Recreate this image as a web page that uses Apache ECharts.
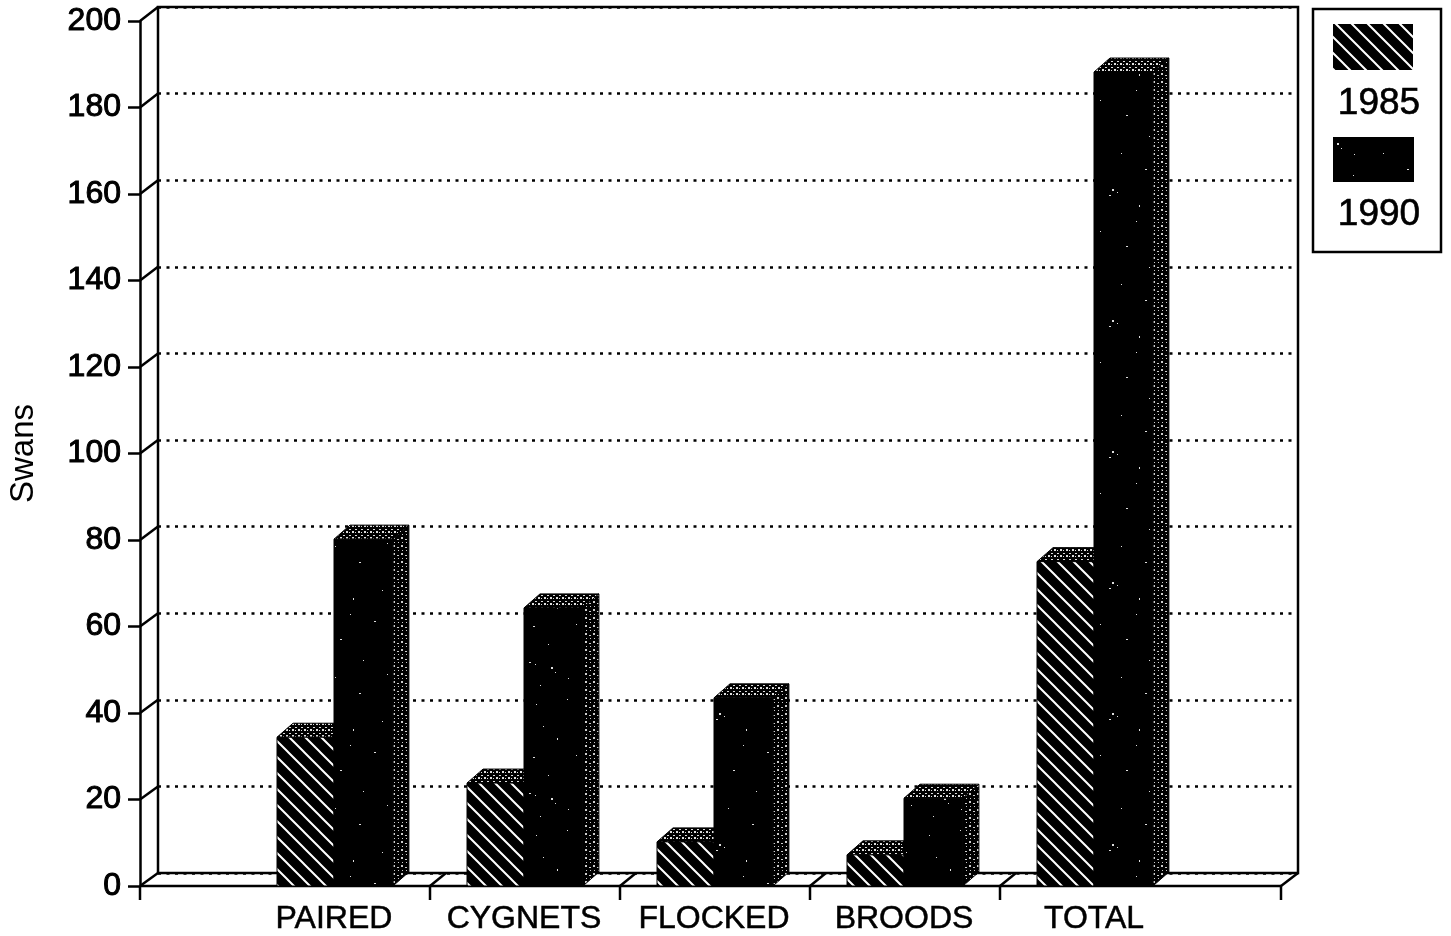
<!DOCTYPE html>
<html>
<head>
<meta charset="utf-8">
<title>Swans</title>
<style>
    html, body { margin: 0; padding: 0; background: #fff; }
    #chart { width: 1451px; height: 936px; }
</style>
<script src="https://cdn.jsdelivr.net/npm/echarts@6/dist/echarts.min.js"></script>
</head>
<body>
<div id="chart"></div>
<script>
    var categories = ['PAIRED', 'CYGNETS', 'FLOCKED', 'BROODS', 'TOTAL'];
    var values1985 = [34.4, 23.8, 10.2, 7.2, 75];
    var values1990 = [80.2, 64.3, 43.5, 20.3, 188.2];
    var yTicks = [0, 20, 40, 60, 80, 100, 120, 140, 160, 180, 200];

    var FONT = '"Liberation Sans", Arial, sans-serif';
    var DEPTH_X = 16;
    var DEPTH_Y = 14;
    var AXIS_X = 140;     // front y axis
    var AXIS_END = 1281;  // front edge of the floor
    var WALL_X = 158;
    var WALL_END = 1298;

    function makeTile(size, draw) {
        var c = document.createElement('canvas');
        c.width = size;
        c.height = size;
        var ctx = c.getContext('2d');
        ctx.fillStyle = '#000';
        ctx.fillRect(0, 0, size, size);
        draw(ctx);
        return { image: c, repeat: 'repeat' };
    }

    function dots(ctx, list, color) {
        ctx.fillStyle = color;
        list.forEach(function (d) {
            ctx.fillRect(d[0], d[1], d[2] || 1, d[3] || 1);
        });
    }

    var hatch = makeTile(16, function (ctx) {
        ctx.strokeStyle = '#fff';
        ctx.lineWidth = 2;
        ctx.beginPath();
        ctx.moveTo(-4, -4); ctx.lineTo(20, 20);
        ctx.moveTo(12, -4); ctx.lineTo(20, 4);
        ctx.moveTo(-4, 12); ctx.lineTo(4, 20);
        ctx.stroke();
    });

    // uneven specks on the black front of the 1990 bars
    var speckle = makeTile(131, function (ctx) {
        dots(ctx, [[5, 7, 2, 1], [11, 9], [19, 71], [27, 12, 2, 2], [31, 17], [78, 115, 2, 1], [44, 23], [97, 38, 2, 1],
            [12, 49], [33, 83, 1, 2], [101, 5], [9, 102, 2, 1], [24, 120], [120, 66], [64, 58, 2, 2], [69, 61], [61, 64, 2, 1],
            [88, 90], [112, 97, 2, 1], [52, 100], [73, 22], [125, 19], [16, 30], [91, 74, 1, 2], [43, 44]], '#ddd');
    });

    var stipple = makeTile(8, function (ctx) {
        dots(ctx, [[1, 1, 2, 2], [5, 3, 2, 1], [2, 6, 1, 1], [6, 6, 1, 1]], '#ccc');
    });

    var stippleTop = makeTile(6, function (ctx) {
        dots(ctx, [[1, 1, 2, 1], [4, 3, 2, 2], [1, 4, 1, 1]], '#ddd');
    });

    // one 3D bar: front, top and side faces, front face from the axis scales
    function renderBar(side, front, showSide, share) {
        return function (params, api) {
            var base = api.coord([api.value(0), 0]);
            var top = api.coord([api.value(0), api.value(1)]);
            var w = api.size([1, 0])[0] * share;
            var x0 = side < 0 ? base[0] - w : base[0];
            var x1 = x0 + w;
            var y0 = base[1];
            var y1 = top[1];
            var edge = { stroke: '#000', lineWidth: 1 };
            var children = [{
                type: 'polygon',
                shape: { points: [[x0, y1], [x0 + DEPTH_X, y1 - DEPTH_Y], [x1 + DEPTH_X, y1 - DEPTH_Y], [x1, y1]] },
                style: Object.assign({ fill: stippleTop }, edge)
            }];
            if (showSide) {
                children.push({
                    type: 'polygon',
                    shape: { points: [[x1, y0], [x1 + DEPTH_X, y0 - DEPTH_Y], [x1 + DEPTH_X, y1 - DEPTH_Y], [x1, y1]] },
                    style: Object.assign({ fill: stipple }, edge)
                });
            }
            children.push({
                type: 'rect',
                shape: { x: x0, y: y1, width: w, height: y0 - y1 },
                style: Object.assign({ fill: front }, edge)
            });
            return { type: 'group', children: children };
        };
    }

    var chart = echarts.init(document.getElementById('chart'));

    chart.setOption({
        animation: false,
        backgroundColor: '#fff',
        textStyle: { fontFamily: FONT, color: '#000' },
        grid: [
            // front plane, carries the bars and both visible axes
            { left: 239, width: 950, top: 21, height: 865, outerBoundsMode: 'none' },
            // back wall with the dotted lines
            { left: WALL_X, width: WALL_END - WALL_X, top: 7, height: 866, outerBoundsMode: 'none', show: true, borderColor: '#000', borderWidth: 2.5, backgroundColor: 'transparent' }
        ],
        xAxis: [
            {
                type: 'category',
                gridIndex: 0,
                data: categories,
                axisLine: { show: false },
                axisTick: { show: false },
                axisLabel: { color: '#000', fontFamily: FONT, fontSize: 32, margin: 17, interval: 0, textBorderColor: '#000', textBorderWidth: 0.5 }
            },
            { type: 'value', gridIndex: 1, min: 0, max: 1, show: false }
        ],
        yAxis: [
            {
                type: 'value',
                gridIndex: 0,
                min: 0,
                max: 200,
                interval: 20,
                offset: 99,
                name: 'Swans',
                nameLocation: 'middle',
                nameRotate: 90,
                nameGap: 100,
                nameTextStyle: { color: '#000', fontFamily: FONT, fontSize: 33 },
                axisLine: { show: true, lineStyle: { color: '#000', width: 2.5 } },
                axisTick: { show: true, length: 12, lineStyle: { color: '#000', width: 2.5 } },
                axisLabel: { color: '#000', fontFamily: FONT, fontSize: 32, margin: 19, padding: [6, 0, 0, 0], textBorderColor: '#000', textBorderWidth: 1, formatter: function (v) { return yTicks.indexOf(v) >= 0 ? String(v) : ''; } },
                splitLine: { show: false }
            },
            {
                type: 'value',
                gridIndex: 1,
                min: 0,
                max: 200,
                interval: 20,
                axisLine: { show: false },
                axisTick: { show: false },
                axisLabel: { show: false },
                splitLine: { show: true, lineStyle: { color: '#000', width: 2.5, type: [3, 5.5] } }
            }
        ],
        series: [
            {
                name: '1985',
                type: 'custom',
                xAxisIndex: 0,
                yAxisIndex: 0,
                z: 5,
                clip: false,
                renderItem: renderBar(-1, hatch, false, 0.3),
                encode: { x: 0, y: 1 },
                data: values1985.map(function (v, i) { return [i, v]; })
            },
            {
                name: '1990',
                type: 'custom',
                xAxisIndex: 0,
                yAxisIndex: 0,
                z: 6,
                clip: false,
                renderItem: renderBar(1, speckle, true, 0.31),
                encode: { x: 0, y: 1 },
                data: values1990.map(function (v, i) { return [i, v]; })
            }
        ]
    });

    // floor, tick connectors and the legend box
    function line(x1, y1, x2, y2) {
        return {
            type: 'line',
            z: 1,
            shape: { x1: x1, y1: y1, x2: x2, y2: y2 },
            style: { stroke: '#000', lineWidth: 2.5 }
        };
    }

    var frame = [];
    var floorFront = chart.convertToPixel({ yAxisIndex: 0 }, 0);
    var floorBack = chart.convertToPixel({ yAxisIndex: 1 }, 0);

    yTicks.forEach(function (v) {
        frame.push(line(AXIS_X, chart.convertToPixel({ yAxisIndex: 0 }, v), WALL_X, chart.convertToPixel({ yAxisIndex: 1 }, v)));
    });
    frame.push(line(AXIS_X, floorFront, AXIS_END, floorFront));
    frame.push(line(AXIS_END, floorFront, WALL_END, floorBack));

    // ticks between the categories, plus both ends of the floor
    var xTicks = [AXIS_X, AXIS_END];
    for (var i = 1; i < categories.length; i++) {
        xTicks.push((chart.convertToPixel({ xAxisIndex: 0 }, i - 1) + chart.convertToPixel({ xAxisIndex: 0 }, i)) / 2 + 1);
    }
    xTicks.forEach(function (x) {
        frame.push(line(x, floorFront, x, floorFront + 14));
        if (x !== AXIS_X && x !== AXIS_END) {
            frame.push(line(x, floorFront, x + DEPTH_X, floorBack));
        }
    });

    var legendText = { fontFamily: FONT, fontSize: 37, fill: '#000', align: 'center', verticalAlign: 'middle', stroke: '#000', lineWidth: 0.6 };
    frame.push(
        { type: 'rect', z: 1, shape: { x: 1313, y: 9, width: 128, height: 243 }, style: { fill: '#fff', stroke: '#000', lineWidth: 2.5 } },
        { type: 'rect', z: 2, shape: { x: 1333, y: 24, width: 80, height: 46 }, style: { fill: hatch } },
        { type: 'text', z: 2, style: Object.assign({ x: 1379, y: 104, text: '1985' }, legendText) },
        { type: 'rect', z: 2, shape: { x: 1333, y: 137, width: 81, height: 45 }, style: { fill: speckle } },
        { type: 'text', z: 2, style: Object.assign({ x: 1379, y: 215, text: '1990' }, legendText) }
    );

    chart.setOption({ graphic: { elements: frame } });
</script>
</body>
</html>
